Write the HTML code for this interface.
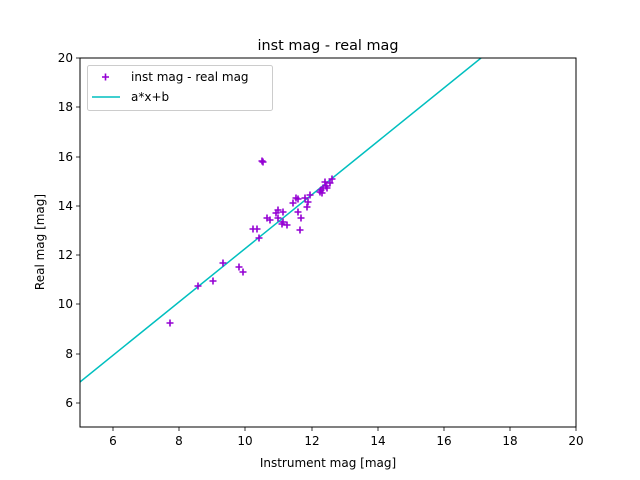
<!DOCTYPE html>
<html><head><style>body{margin:0;background:#fff}svg{display:block;font-family:"DejaVu Sans","Liberation Sans",sans-serif}</style></head>
<body>
<svg width="640" height="480" xmlns="http://www.w3.org/2000/svg">
<rect width="640" height="480" fill="#fff"/>
<clipPath id="c"><rect x="80" y="58" width="496" height="369"/></clipPath>
<line x1="80" y1="382" x2="481" y2="58" stroke="#00bfbf" stroke-width="1.5" clip-path="url(#c)"/>
<g stroke="#9400d3" stroke-width="1.6" fill="none" id="pts"></g>
<rect x="80" y="58" width="496" height="369" fill="none" stroke="#000" stroke-width="1"/>
<g stroke="#000" stroke-width="0.8">
<line x1="113" y1="427" x2="113" y2="431"/><line x1="179" y1="427" x2="179" y2="431"/><line x1="245" y1="427" x2="245" y2="431"/><line x1="312" y1="427" x2="312" y2="431"/><line x1="378" y1="427" x2="378" y2="431"/><line x1="444" y1="427" x2="444" y2="431"/><line x1="510" y1="427" x2="510" y2="431"/><line x1="576" y1="427" x2="576" y2="431"/>
<line x1="76" y1="58" x2="80" y2="58"/><line x1="76" y1="107" x2="80" y2="107"/><line x1="76" y1="157" x2="80" y2="157"/><line x1="76" y1="206" x2="80" y2="206"/><line x1="76" y1="255" x2="80" y2="255"/><line x1="76" y1="304" x2="80" y2="304"/><line x1="76" y1="354" x2="80" y2="354"/><line x1="76" y1="403" x2="80" y2="403"/>
</g>
<g font-size="12" fill="#000" text-anchor="middle">
<text x="113" y="445">6</text><text x="179" y="445">8</text><text x="245" y="445">10</text><text x="312" y="445">12</text><text x="378" y="445">14</text><text x="444" y="445">16</text><text x="510" y="445">18</text><text x="576" y="445">20</text>
</g>
<g font-size="12" fill="#000" text-anchor="end">
<text x="73" y="62">20</text><text x="73" y="111">18</text><text x="73" y="161">16</text><text x="73" y="210">14</text><text x="73" y="259">12</text><text x="73" y="308">10</text><text x="73" y="358">8</text><text x="73" y="407">6</text>
</g>
<text x="328" y="467" font-size="12" text-anchor="middle">Instrument mag [mag]</text>
<text transform="translate(44,242) rotate(-90)" font-size="12" text-anchor="middle">Real mag [mag]</text>
<text x="328" y="50" font-size="14.4" text-anchor="middle">inst mag - real mag</text>
<rect x="87.5" y="65.5" width="185" height="45" rx="2" fill="#fff" fill-opacity="0.8" stroke="#ccc"/>
<path d="M102 77h7M105.5 73.5v7" stroke="#9400d3" stroke-width="1.6"/>
<line x1="92" y1="97" x2="120" y2="97" stroke="#00bfbf" stroke-width="1.5"/>
<text x="131" y="81" font-size="12">inst mag - real mag</text>
<text x="131" y="101" font-size="12">a*x+b</text>
<script>
var p=[[170,323],[198,286],[213,281],[223,263],[239,267],[243,272],[253,229],[257,229],[259,238],[262,161],[263,162],[267,218],[270,220],[276,213],[278,210],[283,212],[278,218],[282,224],[287,225],[283,222],[293,203],[296,198],[298,199],[298,212],[301,218],[300,230],[305,198],[307,207],[308,202],[310,195],[320,192],[323,188],[325,182],[327,188],[330,183],[332,179],[322,193],[326,186],[321,190]];
var d="";p.forEach(function(a){d+="M"+(a[0]-3.5)+" "+a[1]+"h7M"+a[0]+" "+(a[1]-3.5)+"v7"});
var e=document.createElementNS("http://www.w3.org/2000/svg","path");e.setAttribute("d",d);document.getElementById("pts").appendChild(e);
</script>
</svg>
</body></html>
